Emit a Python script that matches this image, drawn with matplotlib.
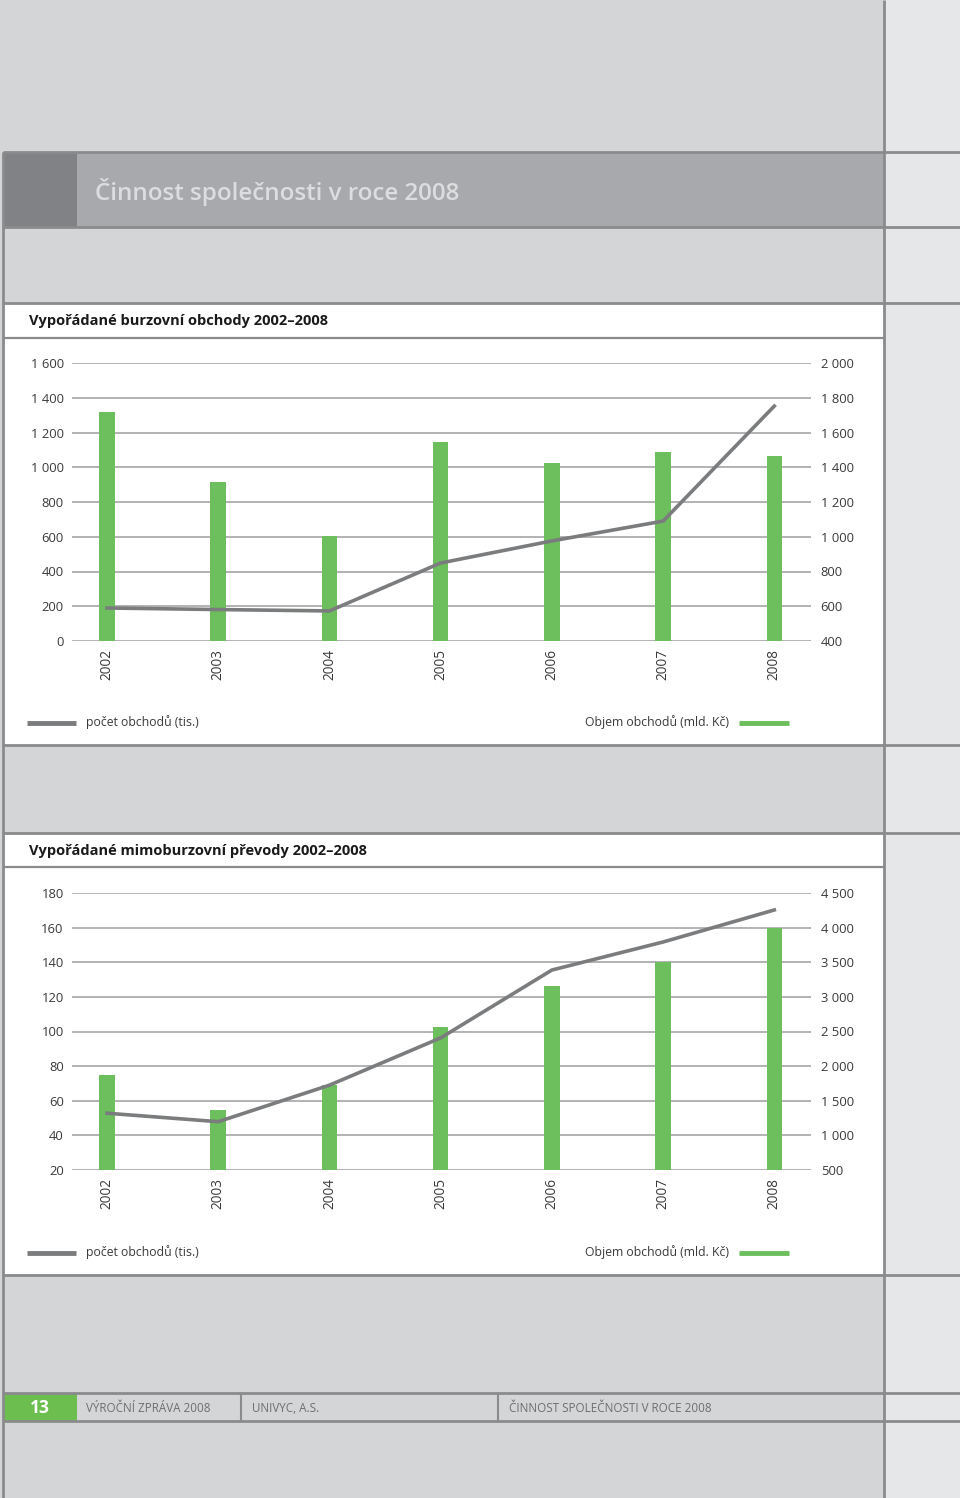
import matplotlib
matplotlib.use("Agg")
import matplotlib.pyplot as plt
from matplotlib.patches import Rectangle
import numpy as np

plt.rcParams['font.family'] = ['Open Sans', 'DejaVu Sans']

# data
years = ["2002", "2003", "2004", "2005", "2006", "2007", "2008"]

# chart 1 - exchange trades
burza_pocet = [190, 181, 173, 449, 576, 690, 1352]        # left axis, tis.
burza_objem = [1718, 1315, 1004, 1545, 1424, 1488, 1465]  # right axis, mld. Kc
burza_left_ticks = [0, 200, 400, 600, 800, 1000, 1200, 1400, 1600]
burza_right_ticks = [400, 600, 800, 1000, 1200, 1400, 1600, 1800, 2000]

# chart 2 - OTC transfers
mimo_pocet = [52.8, 47.9, 69.0, 96.3, 135.5, 151.7, 170.2]
mimo_objem = [1872, 1366, 1727, 2565, 3157, 3510, 4000]
mimo_left_ticks = [20, 40, 60, 80, 100, 120, 140, 160, 180]
mimo_right_ticks = [500, 1000, 1500, 2000, 2500, 3000, 3500, 4000, 4500]

W, H = 960, 1498
GREEN = "#6cbf5c"
LINEGREY = "#7b7c7e"
BG = "#d4d5d7"
BG_RIGHT = "#e6e7e8"
RULE = "#8a8b8d"
GRID = "#a5a6a8"
TXT = "#3a3a3a"

fig = plt.figure(figsize=(W / 100, H / 100), dpi=100)
bg = fig.add_axes([0, 0, 1, 1])
bg.set_xlim(0, W)
bg.set_ylim(H, 0)
bg.axis("off")


def rect(x0, y0, x1, y1, color):
    bg.add_patch(Rectangle((x0, y0), x1 - x0, y1 - y0, facecolor=color, edgecolor="none"))


def hline(y, x0, x1, lw=2.0, color=RULE):
    bg.plot([x0, x1], [y, y], color=color, lw=lw, solid_capstyle="butt")


def vline(x, y0, y1, lw=2.0, color=RULE):
    bg.plot([x, x], [y0, y1], color=color, lw=lw, solid_capstyle="butt")


# page background
rect(0, 0, 884, H, BG)
rect(884, 0, W, H, BG_RIGHT)

# header band
rect(3, 152, 77, 227, "#818285")
rect(77, 152, 884, 227, "#a7a9ac")
bg.text(95, 192, "Činnost společnosti v roce 2008", fontsize=17.4, fontweight="semibold",
        color="#dcdddf", va="center", ha="left")

# white panels
rect(3, 303, 884, 745, "white")
rect(3, 833, 884, 1275, "white")

bg.text(29, 321, "Vypořádané burzovní obchody 2002–2008", fontsize=10.5, fontweight="bold",
        color="#1a1a1a", va="center", ha="left")
bg.text(29, 851, "Vypořádané mimoburzovní převody 2002–2008", fontsize=10.5, fontweight="bold",
        color="#1a1a1a", va="center", ha="left")

# footer
rect(3, 1393, 77, 1421, "#6cbf4f")
bg.text(40, 1408, "13", fontsize=12.5, fontweight="bold", color="white", ha="center", va="center")
bg.text(86, 1408, "VÝROČNÍ ZPRÁVA 2008", fontsize=8.4, color="#6d6e70", ha="left", va="center")
bg.text(252, 1408, "UNIVYC, A.S.", fontsize=8.4, color="#6d6e70", ha="left", va="center")
bg.text(509, 1408, "ČINNOST SPOLEČNOSTI V ROCE 2008", fontsize=8.4, color="#6d6e70", ha="left", va="center")
vline(241, 1393, 1421, lw=1.5)
vline(498, 1393, 1421, lw=1.5)

# rules
for y in [152, 227, 303, 745, 833, 1275, 1393, 1421]:
    hline(y, 3, W)
hline(338, 3, 884, lw=1.6)
hline(867, 3, 884, lw=1.6)
vline(884, 0, H)
vline(3, 152, H)


def fmt(t):
    return f"{t:,}".replace(",", " ")


def make_chart(y_top, y_bot, pocet, objem, lticks, rticks, legend_y):
    ax = fig.add_axes([72 / W, 1 - y_bot / H, (811 - 72) / W, (y_bot - y_top) / H])
    ax2 = ax.twinx()
    x = np.arange(len(years))
    ax.set_xlim(-0.315, 6.33)
    ax.set_ylim(lticks[0], lticks[-1])
    ax2.set_ylim(rticks[0], rticks[-1])

    # grid + bars on the right axis (behind), line on the left axis (front)
    for t in rticks:
        ax2.axhline(t, color=GRID, lw=1.2, zorder=0)
    ax2.bar(x, [v - rticks[0] for v in objem], bottom=rticks[0], width=0.14, color=GREEN, zorder=2)
    ax.plot(x, pocet, color=LINEGREY, lw=2.6, zorder=3, solid_joinstyle="miter")
    ax.set_zorder(ax2.get_zorder() + 1)
    ax.patch.set_visible(False)
    ax2.patch.set_visible(False)

    for a in (ax, ax2):
        for s in a.spines.values():
            s.set_visible(False)
        a.tick_params(length=0)
    ax.set_yticks(lticks)
    ax.set_yticklabels([fmt(t) for t in lticks], fontsize=9.4, color=TXT)
    ax.tick_params(axis="y", pad=6)
    ax2.set_yticks(rticks)
    ax2.set_yticklabels([fmt(t) for t in rticks], fontsize=9.4, color=TXT)
    ax2.tick_params(axis="y", pad=7)
    ax.set_xticks(x)
    ax.set_xticklabels(years, rotation=90, fontsize=9.8, color=TXT, va="top")
    ax.tick_params(axis="x", pad=6)

    # legend
    hline(legend_y, 27, 76, lw=3.5, color=LINEGREY)
    bg.text(86, legend_y - 1, "počet obchodů (tis.)", fontsize=8.8, color=TXT, ha="left", va="center")
    bg.text(729, legend_y - 1, "Objem obchodů (mld. Kč)", fontsize=8.8, color=TXT, ha="right", va="center")
    hline(legend_y, 739, 789, lw=3.5, color=GREEN)


make_chart(363, 641, burza_pocet, burza_objem, burza_left_ticks, burza_right_ticks, 723)
make_chart(893, 1170, mimo_pocet, mimo_objem, mimo_left_ticks, mimo_right_ticks, 1253)

fig.savefig("out.png", dpi=100)
